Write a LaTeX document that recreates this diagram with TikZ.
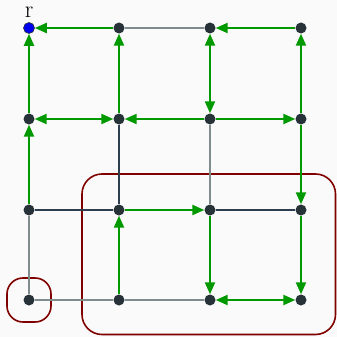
\documentclass[tikz,border=0pt]{standalone}
\usetikzlibrary{arrows.meta}
\definecolor{bgc}{HTML}{FAFAFA}
\definecolor{vdark}{HTML}{263238}
\definecolor{edark}{HTML}{2C3E50}
\definecolor{egray}{HTML}{7F8C8D}
\definecolor{tree}{HTML}{009900}
\definecolor{rootc}{HTML}{0000EE}
\definecolor{grp}{HTML}{800000}
\tikzset{
  vtx/.style={circle, fill=vdark, inner sep=0pt, minimum size=11pt},
  rootvtx/.style={circle, fill=rootc, draw=vdark, line width=0.6pt, inner sep=0pt, minimum size=11pt},
  thindark/.style={draw=edark, line width=1.2pt},
  thingray/.style={draw=egray, line width=1.2pt},
  tedge/.style={draw=tree, line width=2.2pt, -{Triangle[length=12pt,width=10pt]}},
  tboth/.style={draw=tree, line width=2.2pt, {Triangle[length=12pt,width=10pt]}-{Triangle[length=12pt,width=10pt]}},
  group/.style={draw=grp, line width=1.6pt}
}
\begin{document}
\begin{tikzpicture}[x=1pt, y=-1pt]
  \fill[bgc] (0,0) rectangle (337,337);
  \useasboundingbox (0,0) rectangle (337,337);

  % groups
  \draw[group, rounded corners=16pt] (7,278) rectangle (51,322);
  \draw[group, rounded corners=20pt] (82,174) rectangle (335.5,334.5);

  % vertices
  \node[rootvtx] (a1) at (29,28) {};
  \node[vtx] (b1) at (119,28) {};
  \node[vtx] (c1) at (210,28) {};
  \node[vtx] (d1) at (301,28) {};
  \node[vtx] (a2) at (29,119) {};
  \node[vtx] (b2) at (119,119) {};
  \node[vtx] (c2) at (210,119) {};
  \node[vtx] (d2) at (301,119) {};
  \node[vtx] (a3) at (29,210) {};
  \node[vtx] (b3) at (119,210) {};
  \node[vtx] (c3) at (210,210) {};
  \node[vtx] (d3) at (301,210) {};
  \node[vtx] (a4) at (29,300) {};
  \node[vtx] (b4) at (119,300) {};
  \node[vtx] (c4) at (210,300) {};
  \node[vtx] (d4) at (301,300) {};
  \node[font=\fontsize{24}{26}\selectfont, inner sep=0pt, anchor=base] (rlab) at (29,18) {r};

  % plain edges
  \draw[thingray] (b1) -- (c1);
  \draw[thindark] (b2) -- (b3);
  \draw[thingray] (c2) -- (c3);
  \draw[thindark] (a3) -- (b3);
  \draw[thindark] (c3) -- (d3);
  \draw[thingray] (a3) -- (a4);
  \draw[thingray] (a4) -- (b4);
  \draw[thingray] (b4) -- (c4);

  % directed edges
  \draw[tedge] (b1) -- (a1);
  \draw[tedge] (d1) -- (c1);
  \draw[tboth] (a2) -- (b2);
  \draw[tedge] (c2) -- (b2);
  \draw[tedge] (c2) -- (d2);
  \draw[tedge] (a2) -- (a1);
  \draw[tedge] (a3) -- (a2);
  \draw[tedge] (b2) -- (b1);
  \draw[tedge] (b4) -- (b3);
  \draw[tboth] (c1) -- (c2);
  \draw[tedge] (c3) -- (c4);
  \draw[tedge] (d2) -- (d1);
  \draw[tedge] (d2) -- (d3);
  \draw[tedge] (d3) -- (d4);
  \draw[tedge] (b3) -- (c3);
  \draw[tboth] (c4) -- (d4);
\end{tikzpicture}
\end{document}
